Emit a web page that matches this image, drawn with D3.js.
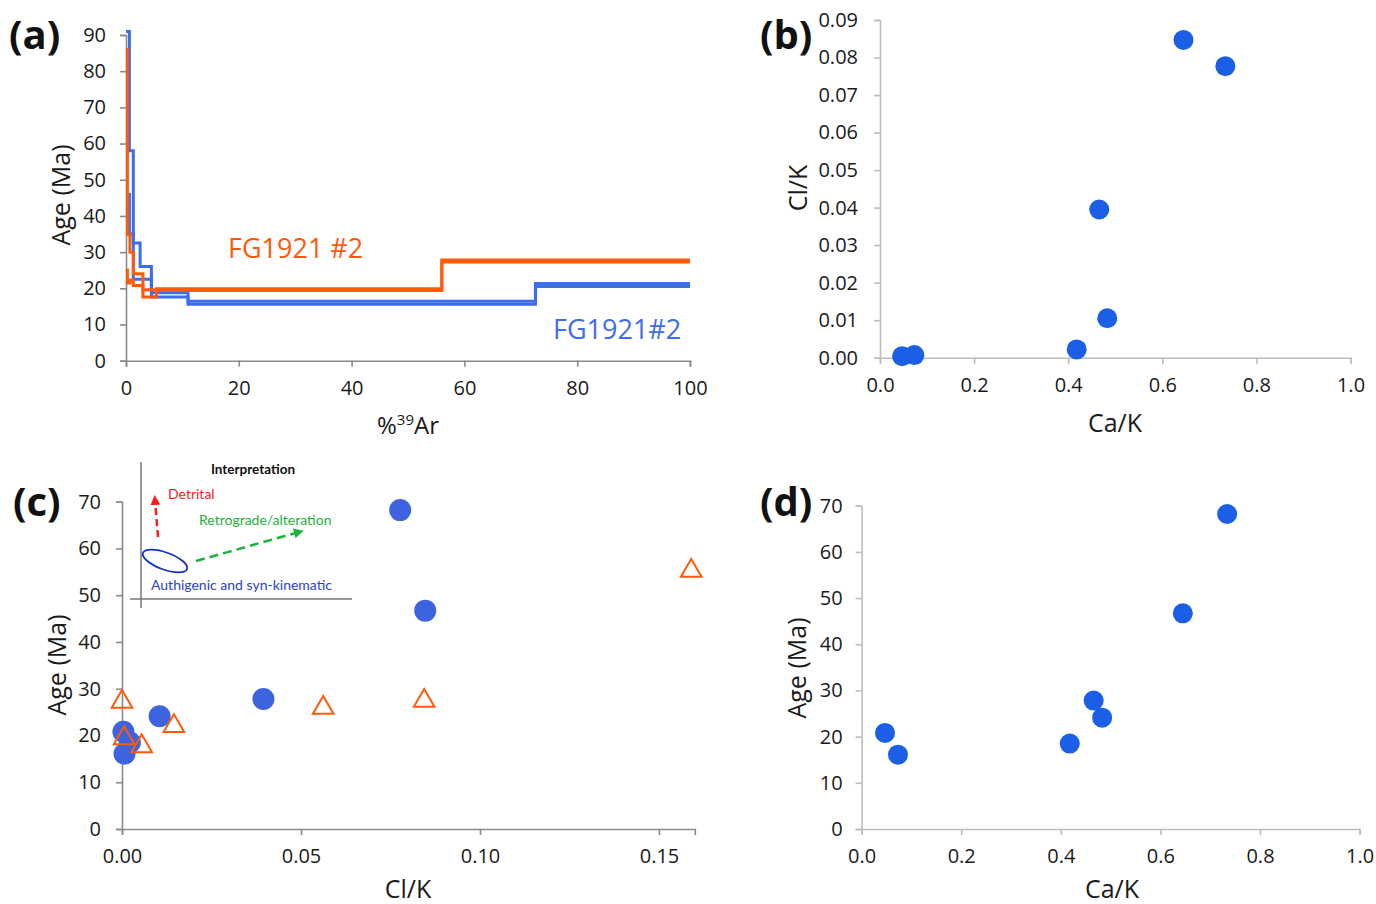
<!DOCTYPE html>
<html>
<head>
<meta charset="utf-8">
<script src="https://cdn.jsdelivr.net/npm/d3@7"></script>
<style>
  body { margin: 0; background: #fff; }
  text { font-family: "Open Sans", sans-serif; }
</style>
</head>
<body>
<div id="chart"></div>
<script>
// (a) age spectra: cumulative %39Ar step edges, upper and lower age of each step
const blueEdges = [0, 0.6, 1.3, 2.5, 4.5, 11, 72.6, 100];
const blueUpper = [91, 58, 32.5, 26, 18.8, 16.4, 21.3];
const blueLower = [46, 35, 22.5, 22.5, 17.6, 15.6, 20.5];
const orangeEdges = [0, 0.25, 0.7, 1.3, 3.0, 5.4, 56, 100];
const orangeUpper = [86, 34.8, 30, 24, 19.6, 19.9, 27.8];
const orangeLower = [25, 21.5, 22.3, 20.8, 17.6, 19.4, 27.3];

// (b), (c), (d) per-step ratios (blue circles)
const caK = [0.047, 0.073, 0.418, 0.466, 0.483, 0.645, 0.734];
const clK = [0.0004, 0.0007, 0.0022, 0.0395, 0.0105, 0.0847, 0.0777];
const ageMa = [20.8, 16.1, 18.5, 27.8, 24.1, 46.7, 68.2];

// (c) orange triangles
const triClK = [0.0, 0.0006, 0.0055, 0.0145, 0.0562, 0.0844, 0.159];
const triAge = [27.2, 19.4, 17.7, 22.0, 25.9, 27.4, 55.2];

// tick values
const ticksArX = [0, 20, 40, 60, 80, 100];
const ticksAge90 = [0, 10, 20, 30, 40, 50, 60, 70, 80, 90];
const ticksAge70 = [0, 10, 20, 30, 40, 50, 60, 70];
const ticksRatio1 = [0, 0.2, 0.4, 0.6, 0.8, 1.0];
const ticksClKb = [0, 0.01, 0.02, 0.03, 0.04, 0.05, 0.06, 0.07, 0.08, 0.09];
const ticksClKc = [0, 0.05, 0.10, 0.15];

const BLUE = "#3d6cec";
const ORANGE = "#ff5a0c";
const DOT = "#1a5fe6";
const DOT_C = "#3d63e0";

const svg = d3.select("#chart").append("svg")
  .attr("width", 1376)
  .attr("height", 904);

// shared axis drawing
function drawAxes(x, y, xt, yt, xfmt, yfmt, color, pads) {
  const gx = svg.append("g")
    .attr("transform", `translate(0, ${y.range()[0]})`)
    .call(d3.axisBottom(x).tickValues(xt).tickFormat(xfmt)
      .tickSizeOuter(0).tickSize(6).tickPadding(pads[0]));
  const gy = svg.append("g")
    .attr("transform", `translate(${x.range()[0]}, 0)`)
    .call(d3.axisLeft(y).tickValues(yt).tickFormat(yfmt)
      .tickSizeOuter(0).tickSize(6).tickPadding(pads[1]));
  [gx, gy].forEach(g => {
    g.selectAll("path, line").attr("stroke", color).attr("stroke-width", 1.6);
    g.selectAll("text").attr("fill", "#1a1a1a").style("font-size", "20px");
  });
}

function title(txt, x, y, rot, size) {
  const t = svg.append("text")
    .attr("text-anchor", "middle")
    .attr("dominant-baseline", "central")
    .attr("transform", `translate(${x},${y}) rotate(${rot})`)
    .style("font-size", size + "px")
    .attr("fill", "#1a1a1a")
    .text(txt);
  return t;
}

function panelLabel(txt, x, y) {
  svg.append("text").attr("x", x).attr("y", y)
    .style("font-size", "40px").style("font-weight", "bold")
    .attr("fill", "#111").text(txt);
}

// ---------- (a) ----------
const xA = d3.scaleLinear().domain([0, 100]).range([126, 690]);
const yA = d3.scaleLinear().domain([0, 90]).range([360.7, 35]);
drawAxes(xA, yA, ticksArX, ticksAge90, d3.format("d"), d3.format("d"), "#8a8a8a", [14, 14]);

const stepLine = d3.line().x(d => xA(d[0])).y(d => yA(d[1])).curve(d3.curveStepAfter);
function stepPoints(edges, vals) {
  return edges.map((e, i) => [e, vals[Math.min(i, vals.length - 1)]]);
}
[[blueEdges, blueLower, BLUE], [blueEdges, blueUpper, BLUE],
 [orangeEdges, orangeLower, ORANGE], [orangeEdges, orangeUpper, ORANGE]].forEach(s => {
  svg.append("path")
    .attr("d", stepLine(stepPoints(s[0], s[1])))
    .attr("fill", "none")
    .attr("stroke", s[2])
    .attr("stroke-width", 3);
});

svg.append("text").attr("x", 228).attr("y", 258)
  .style("font-size", "27px").attr("fill", ORANGE).text("FG1921 #2");
svg.append("text").attr("x", 553).attr("y", 339)
  .style("font-size", "27px").attr("fill", BLUE).text("FG1921#2");

title("Age (Ma)", 60, 195, -90, 25);
const arT = svg.append("text").attr("x", 408).attr("y", 434)
  .attr("text-anchor", "middle").style("font-size", "24px").attr("fill", "#1a1a1a");
arT.append("tspan").text("%");
arT.append("tspan").attr("dy", -9).style("font-size", "15px").text("39");
arT.append("tspan").attr("dy", 9).text("Ar");
panelLabel("(a)", 9, 49);

// ---------- (b) ----------
const xB = d3.scaleLinear().domain([0, 1]).range([880, 1350.5]);
const yB = d3.scaleLinear().domain([0, 0.09]).range([357.7, 20]);
drawAxes(xB, yB, ticksRatio1, ticksClKb, d3.format(".1f"), d3.format(".2f"), "#bdbdbd", [14, 16]);
svg.append("g").selectAll("circle").data(caK).join("circle")
  .attr("cx", (d, i) => xB(d))
  .attr("cy", (d, i) => yB(clK[i]))
  .attr("r", 10)
  .attr("fill", DOT);
title("Cl/K", 797, 188, -90, 25);
title("Ca/K", 1115, 422, 0, 25);
panelLabel("(b)", 760, 49);

// ---------- (c) ----------
const xC = d3.scaleLinear().domain([0, 0.16]).range([122, 694.8]);
const yC = d3.scaleLinear().domain([0, 70]).range([829, 501.7]);
drawAxes(xC, yC, ticksClKc, ticksAge70, d3.format(".2f"), d3.format("d"), "#8a8a8a", [14, 15]);
svg.append("g").selectAll("circle").data(clK).join("circle")
  .attr("cx", d => xC(d))
  .attr("cy", (d, i) => yC(ageMa[i]))
  .attr("r", 11)
  .attr("fill", DOT_C);
svg.append("g").selectAll("path").data(triClK).join("path")
  .attr("d", d3.symbol(d3.symbolTriangle, 185))
  .attr("transform", (d, i) => `translate(${xC(d)},${yC(triAge[i])})`)
  .attr("fill", "none")
  .attr("stroke", ORANGE)
  .attr("stroke-width", 2);
title("Age (Ma)", 56, 665, -90, 25);
title("Cl/K", 408, 888, 0, 25);
panelLabel("(c)", 13, 516);

// interpretation inset in (c)
const defs = svg.append("defs");
[["arRed", "#ff1a1a"], ["arGreen", "#1db33a"]].forEach(m => {
  defs.append("marker").attr("id", m[0])
    .attr("viewBox", "0 0 10 10").attr("refX", 5).attr("refY", 5)
    .attr("markerWidth", 4).attr("markerHeight", 4).attr("orient", "auto")
    .append("path").attr("d", "M0,0 L10,5 L0,10 z").attr("fill", m[1]);
});
const inset = svg.append("g");
inset.append("line").attr("x1", 141).attr("y1", 462).attr("x2", 141).attr("y2", 608)
  .attr("stroke", "#777").attr("stroke-width", 1.5);
inset.append("line").attr("x1", 130).attr("y1", 599).attr("x2", 352).attr("y2", 599)
  .attr("stroke", "#777").attr("stroke-width", 1.5);
inset.append("text").attr("x", 253).attr("y", 474).attr("text-anchor", "middle")
  .style("font-family", "Lato").style("font-size", "13.5px").style("font-weight", "bold")
  .attr("fill", "#111").text("Interpretation");
inset.append("text").attr("x", 168).attr("y", 499)
  .style("font-family", "Lato").style("font-size", "14px")
  .attr("fill", "#ff1a1a").text("Detrital");
inset.append("line").attr("x1", 158).attr("y1", 537).attr("x2", 155).attr("y2", 500)
  .attr("stroke", "#ff1a1a").attr("stroke-width", 2.5).attr("stroke-dasharray", "7,4")
  .attr("marker-end", "url(#arRed)");
inset.append("text").attr("x", 199).attr("y", 525)
  .style("font-family", "Lato").style("font-size", "14px")
  .attr("fill", "#1db33a").text("Retrograde/alteration");
inset.append("line").attr("x1", 196).attr("y1", 561).attr("x2", 299).attr("y2", 532)
  .attr("stroke", "#1db33a").attr("stroke-width", 2.5).attr("stroke-dasharray", "9,5")
  .attr("marker-end", "url(#arGreen)");
inset.append("ellipse").attr("cx", 0).attr("cy", 0).attr("rx", 23.5).attr("ry", 8.5)
  .attr("transform", "translate(165,561) rotate(20)")
  .attr("fill", "none").attr("stroke", "#1530c8").attr("stroke-width", 1.8);
inset.append("text").attr("x", 151).attr("y", 590)
  .style("font-family", "Lato").style("font-size", "14px")
  .attr("fill", "#2b3fd0").text("Authigenic and syn-kinematic");

// ---------- (d) ----------
const xD = d3.scaleLinear().domain([0, 1]).range([861.6, 1359.6]);
const yD = d3.scaleLinear().domain([0, 70]).range([829, 505.7]);
drawAxes(xD, yD, ticksRatio1, ticksAge70, d3.format(".1f"), d3.format("d"), "#bdbdbd", [14, 13]);
svg.append("g").selectAll("circle").data(caK).join("circle")
  .attr("cx", d => xD(d))
  .attr("cy", (d, i) => yD(ageMa[i]))
  .attr("r", 10)
  .attr("fill", DOT);
title("Age (Ma)", 796, 668, -90, 25);
title("Ca/K", 1112, 888, 0, 25);
panelLabel("(d)", 760, 516);
</script>
</body>
</html>
